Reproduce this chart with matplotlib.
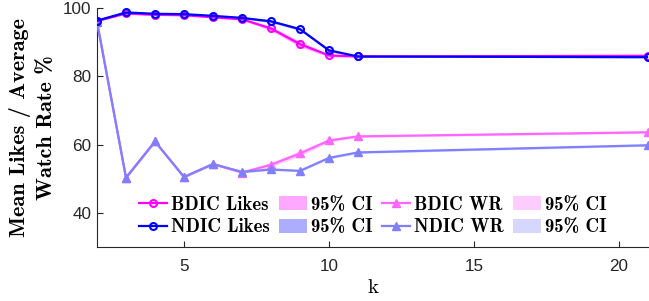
import matplotlib
matplotlib.use("Agg")
import matplotlib.pyplot as plt
from matplotlib.patches import Patch
from matplotlib.lines import Line2D
import numpy as np

k = [2, 3, 4, 5, 6, 7, 8, 9, 10, 11, 21]
bdic_likes = [96.2, 98.4, 98.0, 97.9, 97.3, 96.7, 94.0, 89.4, 86.1, 85.8, 86.0]
ndic_likes = [96.3, 98.7, 98.3, 98.2, 97.7, 97.1, 96.1, 93.8, 87.6, 85.8, 85.6]
bdic_wr = [96.0, 50.3, 60.9, 50.5, 54.3, 51.8, 54.1, 57.4, 61.2, 62.4, 63.6]
ndic_wr = [96.0, 50.3, 60.9, 50.5, 54.3, 52.0, 52.7, 52.3, 56.1, 57.7, 59.8]
bdic_likes_ci = [0.2, 0.2, 0.2, 0.2, 0.3, 0.3, 0.6, 0.8, 0.4, 0.2, 0.2]
ndic_likes_ci = [0.2, 0.2, 0.2, 0.2, 0.2, 0.3, 0.4, 0.4, 0.4, 0.2, 0.2]
bdic_wr_ci = [0.2, 0.3, 0.3, 0.3, 0.3, 0.3, 0.6, 0.8, 0.5, 0.3, 0.3]
ndic_wr_ci = [0.2, 0.3, 0.3, 0.3, 0.3, 0.3, 0.3, 0.3, 0.3, 0.3, 0.3]
xticks = [5, 10, 15, 20]
yticks = [40, 60, 80, 100]

c_bl = "#FF00FF"
c_nl = "#0000FF"
c_bw = "#FF66FF"
c_nw = "#7F7FFF"
ci_bl = "#FFA8FF"
ci_nl = "#ADADFF"
ci_bw = "#FFCCFF"
ci_nw = "#D6D6FF"

fig = plt.figure(figsize=(6.49, 3.01), dpi=100)
ax = fig.add_axes([97/649, 1-247/301, 551/649, 239/301])

ka = np.array(k)
def band(y, ci, col):
    y = np.array(y); ci = np.array(ci)
    ax.fill_between(ka, y - ci, y + ci, color=col, lw=0, alpha=0.9, zorder=1)

band(bdic_wr, bdic_wr_ci, ci_bw)
band(ndic_wr, ndic_wr_ci, ci_nw)
band(bdic_likes, bdic_likes_ci, ci_bl)
band(ndic_likes, ndic_likes_ci, ci_nl)

lw = 1.6
ax.plot(k, bdic_wr, color=c_bw, lw=lw, marker='^', ms=6, mfc=c_bw, mec=c_bw, zorder=3)
ax.plot(k, ndic_wr, color=c_nw, lw=lw, marker='^', ms=6, mfc=c_nw, mec=c_nw, zorder=3)
ax.plot(k, bdic_likes, color=c_bl, lw=lw, marker='o', ms=5, mfc='none', mec=c_bl, mew=1.5, zorder=4)
ax.plot(k, ndic_likes, color=c_nl, lw=lw, marker='o', ms=5, mfc='none', mec=c_nl, mew=1.5, zorder=5)

ax.set_xlim(2, 21)
ax.set_ylim(30, 100)
ax.set_xticks(xticks)
ax.set_yticks(yticks)
for s in ['top', 'right']:
    ax.spines[s].set_visible(False)
for s in ['left', 'bottom']:
    ax.spines[s].set_color('#262626')
    ax.spines[s].set_linewidth(0.8)
ax.tick_params(direction='in', length=4, width=0.8, color='#262626',
               labelcolor='#262626', labelsize=12.3, pad=4)
ax.tick_params(axis='x', pad=8.5)
for lab in ax.get_xticklabels() + ax.get_yticklabels():
    lab.set_fontfamily('Liberation Sans')

ax.set_xlabel('k', fontfamily=['cmr10', 'DejaVu Serif'], fontsize=15, labelpad=4)
ax.set_ylabel('Mean Likes / Average\nWatch Rate %', fontfamily=['cmb10', 'DejaVu Serif'],
              fontsize=16, labelpad=5, linespacing=1.4)

handles = [
    Line2D([], [], color=c_bl, lw=lw, marker='o', ms=5, mfc='none', mec=c_bl, mew=1.5),
    Line2D([], [], color=c_nl, lw=lw, marker='o', ms=5, mfc='none', mec=c_nl, mew=1.5),
    Patch(color=ci_bl, lw=0),
    Patch(color=ci_nl, lw=0),
    Line2D([], [], color=c_bw, lw=lw, marker='^', ms=6, mfc=c_bw, mec=c_bw),
    Line2D([], [], color=c_nw, lw=lw, marker='^', ms=6, mfc=c_nw, mec=c_nw),
    Patch(color=ci_bw, lw=0),
    Patch(color=ci_nw, lw=0),
]
labels = ['BDIC Likes', 'NDIC Likes', '95% CI', '95% CI',
          'BDIC WR', 'NDIC WR', '95% CI', '95% CI']
ax.legend(handles, labels, ncol=4, loc='center', bbox_to_anchor=(373/649, 1-216/301),
          bbox_transform=fig.transFigure, frameon=False,
          prop={'family': ['cmb10', 'DejaVu Serif'], 'size': 13.5},
          handlelength=1.5, handleheight=0.8, handletextpad=0.2,
          columnspacing=0.5, labelspacing=0.25, borderpad=0)

fig.savefig('out.png', dpi=100)
